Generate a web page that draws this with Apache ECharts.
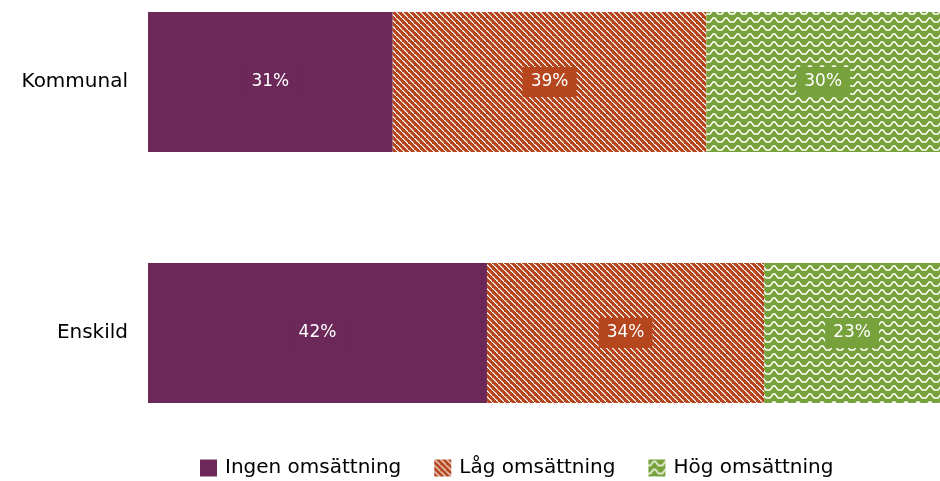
<!DOCTYPE html>
<html>
<head>
<meta charset="utf-8">
<script src="https://cdn.jsdelivr.net/npm/echarts@6/dist/echarts.min.js"></script>
<style>
  html, body { margin: 0; padding: 0; background: #fff; }
  #chart { width: 940px; height: 481px; }
</style>
</head>
<body>
<div id="chart"></div>
<script>
// kategorier (uppifrån och ned)
const categories = ['Kommunal', 'Enskild'];
const seriesNames = ['Ingen omsättning', 'Låg omsättning', 'Hög omsättning'];
// andelar i procent, avlästa från staplarnas längd
const ingen = [30.9, 42.8];
const lag = [39.6, 35.0];
const hog = [29.5, 22.2];
// etiketterna som står i staplarna
const ingenLabels = ['31%', '42%'];
const lagLabels = ['39%', '34%'];
const hogLabels = ['30%', '23%'];

const purple = '#6b2858';
const orange = '#b5461e';
const green = '#77a13a';
const font = 'DejaVu Sans, sans-serif';

// diagonala vita ränder på orange botten
function stripePattern() {
  const c = document.createElement('canvas');
  c.width = 6; c.height = 6;
  const ctx = c.getContext('2d');
  ctx.fillStyle = orange;
  ctx.fillRect(0, 0, 6, 6);
  ctx.fillStyle = '#fff';
  for (let i = 0; i < 6; i++) {
    ctx.fillRect(i, i, 1.6, 1);
  }
  return c;
}

// vita vågor på grön botten
function wavePattern() {
  const c = document.createElement('canvas');
  c.width = 12; c.height = 8;
  const ctx = c.getContext('2d');
  ctx.fillStyle = green;
  ctx.fillRect(0, 0, 12, 8);
  ctx.strokeStyle = '#fff';
  ctx.lineWidth = 1.4;
  ctx.beginPath();
  ctx.moveTo(0, 6);
  ctx.lineTo(2, 6);
  ctx.lineTo(5, 2);
  ctx.lineTo(7, 2);
  ctx.lineTo(10, 6);
  ctx.lineTo(12, 6);
  ctx.stroke();
  return c;
}

function labelOpt(texts, bg) {
  return {
    show: true,
    position: 'inside',
    color: '#fff',
    fontSize: 17,
    fontFamily: font,
    backgroundColor: bg,
    padding: [7, 8, 6, 8],
    formatter: function (p) { return texts[p.dataIndex]; }
  };
}

let myChart = echarts.init(document.getElementById('chart'));
myChart.setOption({
  animation: false,
  textStyle: { fontFamily: font },
  grid: { left: 148, right: 0, top: 82, bottom: 148 },
  xAxis: { type: 'value', min: 0, max: 100, show: false },
  yAxis: {
    type: 'category',
    data: categories,
    inverse: true,
    boundaryGap: false,
    axisLine: { show: false },
    axisTick: { show: false },
    splitLine: { show: false },
    axisLabel: { color: '#000', fontSize: 20, fontFamily: font, margin: 20 }
  },
  legend: {
    top: 453,
    left: 195,
    itemWidth: 17,
    itemHeight: 17,
    itemGap: 33,
    icon: 'rect',
    textStyle: { color: '#000', fontSize: 20, fontFamily: font, padding: [0, 0, 0, 3] },
    data: seriesNames
  },
  series: [
    {
      name: seriesNames[0], type: 'bar', stack: 'tot', barWidth: 140,
      data: ingen,
      itemStyle: { color: purple },
      label: labelOpt(ingenLabels, purple)
    },
    {
      name: seriesNames[1], type: 'bar', stack: 'tot', barWidth: 140,
      data: lag,
      itemStyle: { color: { image: stripePattern(), repeat: 'repeat' } },
      label: labelOpt(lagLabels, orange)
    },
    {
      name: seriesNames[2], type: 'bar', stack: 'tot', barWidth: 140,
      data: hog,
      itemStyle: { color: { image: wavePattern(), repeat: 'repeat' } },
      label: labelOpt(hogLabels, green)
    }
  ]
});
</script>
</body>
</html>
